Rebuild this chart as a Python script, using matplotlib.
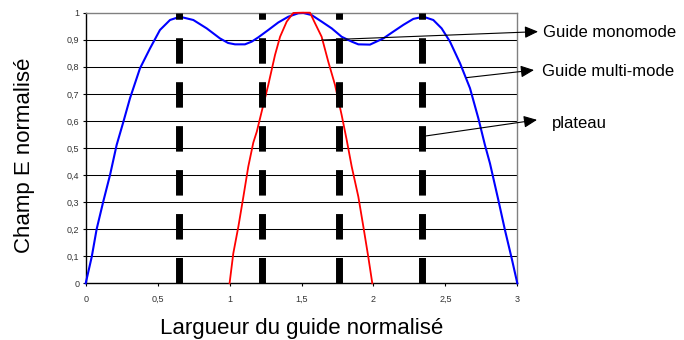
import numpy as np
import matplotlib
matplotlib.use("Agg")
import matplotlib.pyplot as plt

plt.rcParams['font.family'] = ['Liberation Sans', 'DejaVu Sans']

# guide multi-mode (bleu)
x_multi = [0.000, 0.042, 0.076, 0.122, 0.169, 0.215, 0.262, 0.308, 0.377, 0.447,
           0.516, 0.586, 0.655, 0.748, 0.841, 0.933, 0.990, 1.038, 1.107, 1.154,
           1.200, 1.269, 1.339, 1.408, 1.478, 1.513, 1.571, 1.640, 1.710, 1.779,
           1.849, 1.895, 1.976, 2.069, 2.138, 2.208, 2.277, 2.347, 2.416, 2.474,
           2.532, 2.602, 2.671, 2.729, 2.775, 2.810, 2.868, 2.914, 2.961, 3.000]
y_multi = [0.000, 0.098, 0.200, 0.302, 0.400, 0.511, 0.597, 0.684, 0.794, 0.868,
           0.936, 0.973, 0.985, 0.973, 0.942, 0.905, 0.888, 0.883, 0.883, 0.893,
           0.909, 0.936, 0.964, 0.985, 0.998, 0.999, 0.991, 0.967, 0.942, 0.911,
           0.893, 0.883, 0.882, 0.905, 0.930, 0.955, 0.977, 0.985, 0.973, 0.942,
           0.893, 0.813, 0.721, 0.610, 0.511, 0.443, 0.308, 0.197, 0.092, 0.000]

# guide monomode (rouge)
x_mono = [1.000, 1.026, 1.061, 1.096, 1.130, 1.165, 1.189, 1.223, 1.269, 1.316,
          1.351, 1.397, 1.443, 1.500, 1.559, 1.594, 1.640, 1.686, 1.733, 1.779,
          1.814, 1.849, 1.895, 1.930, 1.964, 1.992]
y_mono = [0.000, 0.111, 0.209, 0.320, 0.431, 0.520, 0.560, 0.634, 0.733, 0.844,
          0.911, 0.967, 0.999, 1.000, 1.000, 0.961, 0.911, 0.819, 0.733, 0.622,
          0.530, 0.431, 0.320, 0.209, 0.098, 0.000]

# positions des plateaux
x_plateau = [0.65, 1.223, 1.763, 2.335]

x_ticks = [0, 0.5, 1, 1.5, 2, 2.5, 3]
x_ticklabels = ['0', '0,5', '1', '1,5', '2', '2,5', '3']
y_ticks = [0, 0.1, 0.2, 0.3, 0.4, 0.5, 0.6, 0.7, 0.8, 0.9, 1]
y_ticklabels = ['0', '0,1', '0,2', '0,3', '0,4', '0,5', '0,6', '0,7', '0,8', '0,9', '1']

fig = plt.figure(figsize=(6.84, 3.4), dpi=100)
ax = fig.add_axes([0.1253, 0.1668, 0.631, 0.7959])

# grille horizontale
for yv in y_ticks[1:-1]:
    ax.axhline(yv, color='black', lw=0.75, zorder=1)

ax.plot(x_multi, y_multi, color='#0000ff', lw=1.5, zorder=3, clip_on=False)
ax.plot(x_mono, y_mono, color='#ff0000', lw=1.3, zorder=3, clip_on=False)

for xp in x_plateau:
    ax.plot([xp, xp], [0, 1], color='black', lw=5, dashes=(3.67, 2.66),
            solid_capstyle='butt', dash_capstyle='butt', zorder=4)

ax.set_xlim(0, 3)
ax.set_ylim(0, 1)
ax.set_xticks(x_ticks)
ax.set_xticklabels(x_ticklabels)
ax.set_yticks(y_ticks)
ax.set_yticklabels(y_ticklabels)
ax.tick_params(axis='both', labelsize=6.5, labelcolor='#333333', length=2.5,
               width=0.8, direction='out')
ax.tick_params(axis='x', pad=6)
ax.tick_params(axis='y', pad=2)

for side in ['top', 'right']:
    ax.spines[side].set_color('#808080')
    ax.spines[side].set_linewidth(1.0)
for side in ['left', 'bottom']:
    ax.spines[side].set_color('black')
    ax.spines[side].set_linewidth(1.0)

# fleches vers les legendes
arrow = dict(arrowstyle='-|>,head_length=0.4,head_width=0.18', color='black',
             lw=0.8, mutation_scale=20, shrinkA=0, shrinkB=0)
ax.annotate('', xy=(3.144, 0.930), xytext=(1.640, 0.899), arrowprops=arrow,
            annotation_clip=False)
ax.annotate('', xy=(3.116, 0.788), xytext=(2.648, 0.760), arrowprops=arrow,
            annotation_clip=False)
ax.annotate('', xy=(3.137, 0.604), xytext=(2.358, 0.544), arrowprops=arrow,
            annotation_clip=False)

ax.text(3.176, 0.911, 'Guide monomode', fontsize=12, ha='left', va='baseline',
        clip_on=False)
ax.text(3.170, 0.766, 'Guide multi-mode', fontsize=12, ha='left', va='baseline',
        clip_on=False)
ax.text(3.239, 0.573, 'plateau', fontsize=12, ha='left', va='baseline',
        clip_on=False)

fig.text(301.5 / 684, 6 / 340, 'Largueur du guide normalisé', fontsize=16,
         ha='center', va='baseline')
fig.text(25 / 684, 1 - 155.5 / 340, 'Champ E normalisé', fontsize=16,
         ha='center', va='center', rotation=90)

fig.savefig('out.png', dpi=100)
